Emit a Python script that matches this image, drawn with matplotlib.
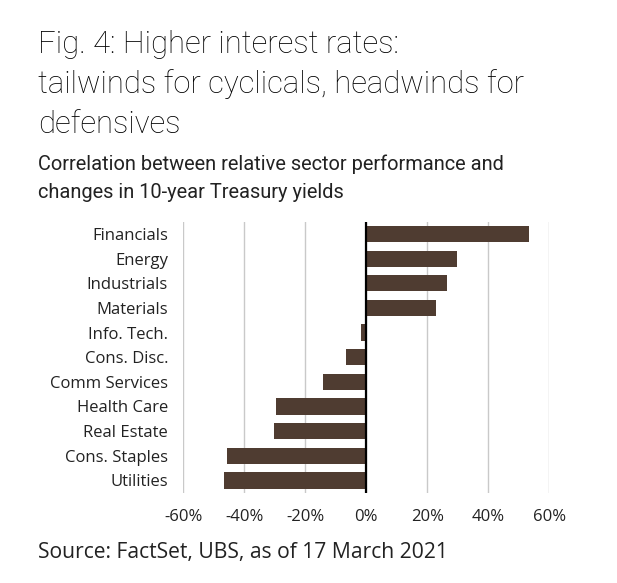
import matplotlib
matplotlib.use("Agg")
import matplotlib.pyplot as plt

plt.rcParams['font.family'] = ['Open Sans', 'DejaVu Sans']

# data (correlation, %)
sectors = ['Financials', 'Energy', 'Industrials', 'Materials', 'Info. Tech.',
           'Cons. Disc.', 'Comm Services', 'Health Care', 'Real Estate',
           'Cons. Staples', 'Utilities']
correl = [53.3, 29.9, 26.6, 22.7, -1.6, -6.7, -14.1, -29.5, -30.4, -45.7, -46.8]
xticks = [-60, -40, -20, 0, 20, 40, 60]
xtick_labels = ['-60%', '-40%', '-20%', '0%', '20%', '40%', '60%']

W, H = 617, 583
fig = plt.figure(figsize=(W / 100, H / 100), dpi=100)
fig.patch.set_facecolor('white')

ax = fig.add_axes([183.3 / W, 1 - 492.7 / H, (549.3 - 183.3) / W, (492.7 - 221.7) / H])

ypos = list(range(len(sectors)))[::-1]
ax.barh(ypos, correl, height=0.66, color='#4f3c31', zorder=3)
ax.axvline(0, color='black', linewidth=1.6, zorder=4)

ax.set_xlim(-60, 60)
ax.set_ylim(-0.5, len(sectors) - 0.5)
ax.set_xticks(xticks)
ax.set_xticklabels(xtick_labels, fontsize=12, color='#222222')
ax.set_yticks(ypos)
ax.set_yticklabels(sectors, fontsize=12, color='#222222')
ax.grid(axis='x', color='#c9c9c9', linewidth=1.0, zorder=0)
ax.tick_params(length=0)
ax.tick_params(axis='y', pad=11)
ax.tick_params(axis='x', pad=12)
for s in ax.spines.values():
    s.set_visible(False)

title = ['Fig. 4: Higher interest rates:',
         'tailwinds for cyclicals, headwinds for',
         'defensives']
for i, line in enumerate(title):
    fig.text(38 / W, 1 - (53.3 + 40 * i) / H, line, fontsize=22.3,
             family=['Roboto', 'DejaVu Sans'], weight='light',
             color='#000000', va='baseline', ha='left')

sub = ['Correlation between relative sector performance and',
       'changes in 10-year Treasury yields']
for i, line in enumerate(sub):
    fig.text(38 / W, 1 - (170 + 28 * i) / H, line, fontsize=14.4,
             family=['Roboto', 'DejaVu Sans'],
             color='#222222', va='baseline', ha='left')

fig.text(38 / W, 1 - 557.7 / H, 'Source: FactSet, UBS, as of 17 March 2021',
         fontsize=15.2, color='#222222', va='baseline', ha='left')

fig.savefig('out.png', dpi=100, facecolor='white')
